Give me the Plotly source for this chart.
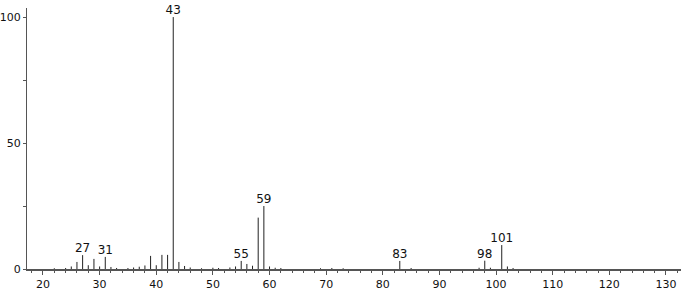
import plotly.graph_objects as go

mz = [22, 24, 25, 26, 27, 28, 29, 30, 31, 32, 33, 35, 36, 37, 38, 39, 40, 41, 42, 43, 44, 45, 46,
      48, 50, 51, 53, 54, 55, 56, 57, 58, 59, 60, 61, 62, 69, 71, 73, 83, 85, 97, 98, 99, 101, 102, 103]
intensity = [0.3, 0.4, 1.0, 2.8, 5.5, 1.5, 4.0, 1.0, 4.8, 0.8, 0.4, 0.4, 0.6, 0.9, 1.4, 5.2, 1.5, 5.6, 5.6, 100.0, 2.8, 1.2, 0.6,
             0.3, 0.5, 0.4, 0.6, 1.0, 3.2, 2.0, 1.3, 20.4, 25.0, 1.0, 0.5, 0.4, 0.3, 0.4, 0.3, 3.2, 0.4, 0.5, 3.3, 0.5, 9.5, 1.0, 0.4]
label_mz = [27, 31, 43, 55, 59, 83, 98, 101]

xs, ys = [], []
for m, v in zip(mz, intensity):
    xs += [m, m, None]
    ys += [0, v, None]

lab_y = [intensity[mz.index(m)] for m in label_mz]

fig = go.Figure()
fig.add_trace(go.Scatter(x=xs, y=ys, mode="lines", line=dict(color="#222222", width=1),
                         hoverinfo="skip", showlegend=False))
fig.add_trace(go.Scatter(x=label_mz, y=lab_y, mode="text", text=[str(m) for m in label_mz],
                         textposition="top center", textfont=dict(size=12, color="#111111"),
                         showlegend=False, cliponaxis=False))

fig.update_layout(
    width=683, height=291,
    margin=dict(l=27, r=2, t=8, b=22),
    plot_bgcolor="white", paper_bgcolor="white",
    font=dict(family="DejaVu Sans, Lato, sans-serif", size=12, color="#111111"),
    xaxis=dict(range=[17.18, 132.65], showgrid=False, zeroline=False, automargin=False,
               showline=True, linecolor="#555555", linewidth=2,
               tickmode="linear", tick0=20, dtick=10, ticks="outside", ticklen=4,
               tickcolor="#555555", tickwidth=1,
               minor=dict(tickmode="linear", tick0=20, dtick=2, ticks="outside", ticklen=2,
                          tickcolor="#555555", tickwidth=1, showgrid=False),
               tickfont=dict(size=11)),
    yaxis=dict(range=[0, 103.6], showgrid=False, zeroline=False, automargin=False,
               showline=True, linecolor="#555555", linewidth=1,
               tickvals=[0, 25, 50, 75, 100], ticktext=["0", "", "50", "", "100"],
               ticks="outside", ticklen=3, tickcolor="#555555", tickwidth=1,
               tickfont=dict(size=11)),
)

fig.write_html("out.html")
